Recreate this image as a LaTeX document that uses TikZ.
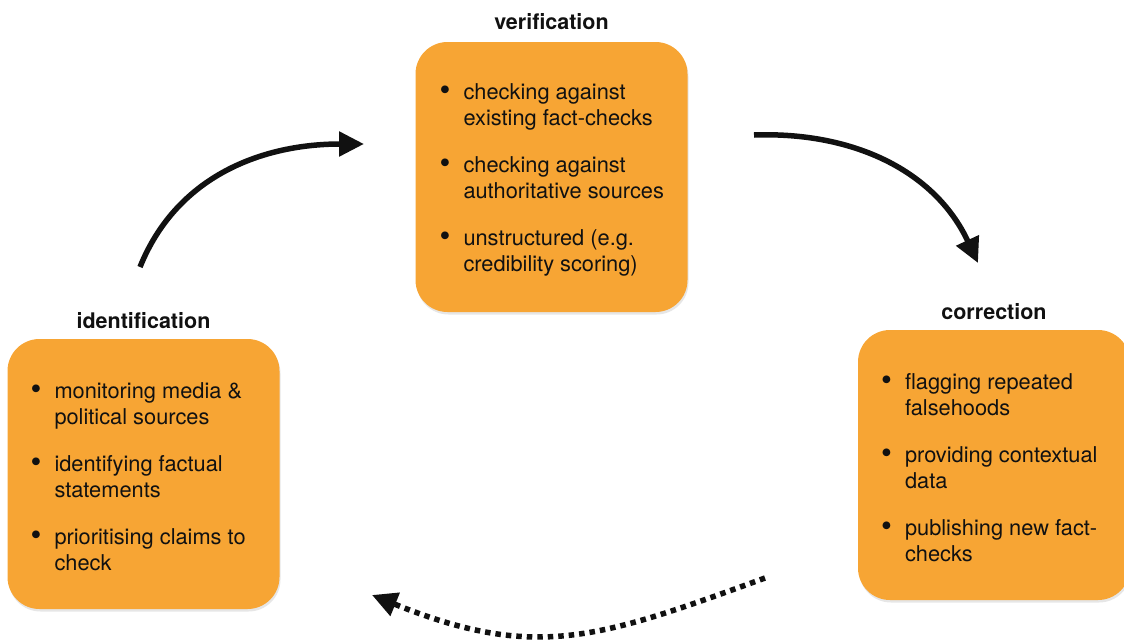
\documentclass[tikz,border=0pt]{standalone}
\usepackage{fontspec}
\setmainfont{TeX Gyre Heros}
\usepackage{xcolor}
\usepackage{tikz}
\usetikzlibrary{arrows.meta,shadows}
\definecolor{boxfill}{HTML}{F7A534}
\definecolor{ink}{HTML}{111111}
\tikzset{
  panel/.style={fill=boxfill, rounded corners=32pt, minimum width=272pt, minimum height=270pt, inner sep=0pt,
    drop shadow={shadow xshift=1pt, shadow yshift=-2.5pt, opacity=0.2}},
  panelTitle/.style={text=ink, font=\fontsize{21.5}{24}\selectfont\bfseries, anchor=base},
  itemText/.style={text=ink, font=\fontsize{21.8}{26}\selectfont, align=left, anchor=west, inner sep=0pt},
  flow/.style={draw=ink, line width=5.5pt, -{Triangle[length=25pt,width=24pt]}},
  flowDots/.style={flow, dash pattern=on 5.5pt off 5pt}
}
\newcommand{\bul}{\llap{\raisebox{-1.5pt}{\fontsize{31}{26}\selectfont\textbullet}\hspace{13pt}}}

\begin{document}
\begin{tikzpicture}[x=1pt, y=1pt]
  \useasboundingbox (0,0) rectangle (1124,-640);
  \clip (0,0) rectangle (1124,-640);

  % boxes
  \node[panel] (ver) at (551.5,-177) {};
  \node[panel] (ident) at (143.5,-474) {};
  \node[panel] (corr) at (994,-465) {};

  % titles
  \node[panelTitle] (verTitle) at ([yshift=12pt]ver.north) {verification};
  \node[panelTitle] (identTitle) at ([yshift=10pt]ident.north) {identification};
  \node[panelTitle] (corrTitle) at ([yshift=10pt]corr.north) {correction};

  % lists
  \node[itemText] (verList) at ([xshift=48pt, yshift=-2.5pt]ver.west)
    {\bul checking against\\ existing fact-checks\\[21pt]
     \bul checking against\\ authoritative sources\\[21pt]
     \bul unstructured (e.g.\\ credibility scoring)};
  \node[itemText] (identList) at ([xshift=47pt, yshift=-2.5pt]ident.west)
    {\bul monitoring media \&\\ political sources\\[21pt]
     \bul identifying factual\\ statements\\[21pt]
     \bul prioritising claims to\\ check};
  \node[itemText] (corrList) at ([xshift=47pt, yshift=-2.5pt]corr.west)
    {\bul flagging repeated\\ falsehoods\\[21pt]
     \bul providing contextual\\ data\\[21pt]
     \bul publishing new fact-\\ checks};

  % arrow ends
  \coordinate (a1) at (140,-267);
  \coordinate (b1) at (364,-144);
  \coordinate (a2) at (754,-135);
  \coordinate (b2) at (978,-263);
  \coordinate (a3) at (765,-578);
  \coordinate (b3) at (372,-595);

  % cycle
  \draw[flow] (a1) to[out=68, in=180] (b1);
  \draw[flow] (a2) to[out=2, in=115] (b2);
  \draw[flowDots] (a3) to[out=200, in=-22, looseness=1.15] (b3);
\end{tikzpicture}
\end{document}
